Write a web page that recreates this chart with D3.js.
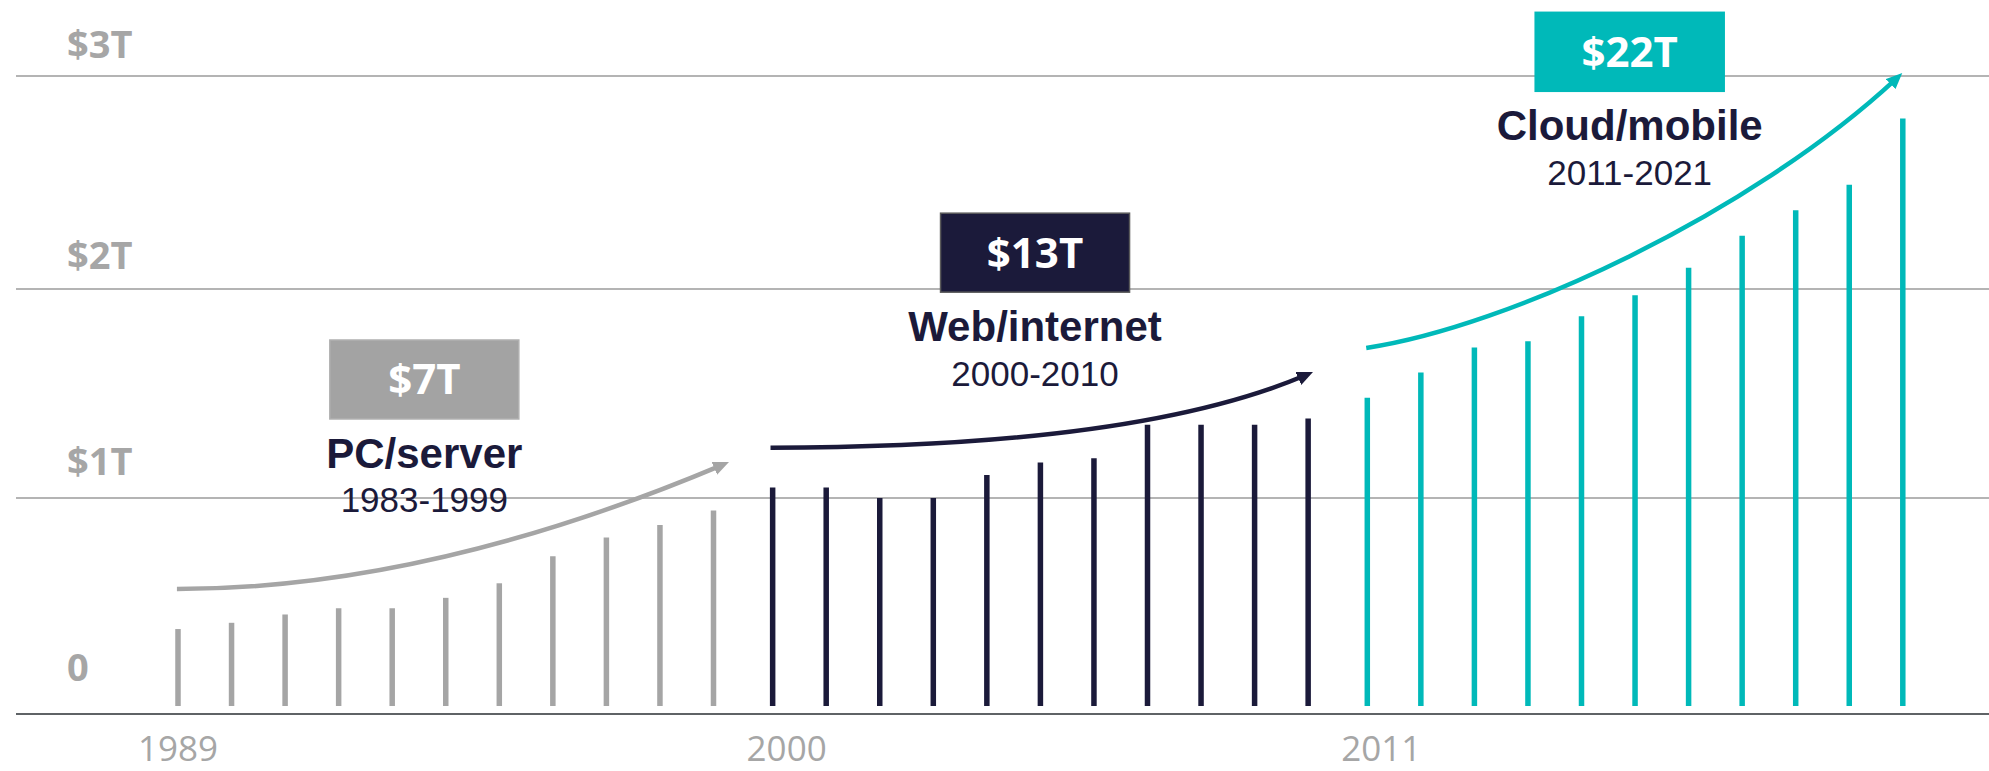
<!DOCTYPE html>
<html><head><meta charset="utf-8">
<script src="https://cdn.jsdelivr.net/npm/d3@7"></script>
<style>html,body{margin:0;padding:0;background:#fff;} svg{display:block;}</style>
</head><body>
<svg id="chart" width="1989" height="771"></svg>
<script>
// ---------- data ----------
const pcYears    = [1989, 1990, 1991, 1992, 1993, 1994, 1995, 1996, 1997, 1998, 1999];
const pcValues   = [0.37, 0.40, 0.44, 0.47, 0.47, 0.52, 0.59, 0.72, 0.81, 0.87, 0.94];
const webYears   = [2000, 2001, 2002, 2003, 2004, 2005, 2006, 2007, 2008, 2009, 2010];
const webValues  = [1.05, 1.05, 1.00, 1.00, 1.11, 1.17, 1.19, 1.35, 1.35, 1.35, 1.38];
const cloudYears = [2011, 2012, 2013, 2014, 2015, 2016, 2017, 2018, 2019, 2020, 2021];
const cloudValues= [1.48, 1.60, 1.72, 1.75, 1.87, 1.97, 2.10, 2.25, 2.37, 2.49, 2.80];

const eraNames  = ["PC/server", "Web/internet", "Cloud/mobile"];
const eraRanges = ["1983-1999", "2000-2010", "2011-2021"];
const eraTotals = ["$7T", "$13T", "$22T"];

const yTickValues = [0, 1, 2, 3];
const yTickLabels = ["0", "$1T", "$2T", "$3T"];
const xTickYears  = [1989, 2000, 2011];
const xTickLabels = ["1989", "2000", "2011"];

// trend arrows: cubic curves, control points in data units [year, $T]
const pcArrow    = [[1988.98, 0.5625], [1992.14, 0.5625], [1995.58, 0.766], [1999.29, 1.172]];
const webArrow   = [[1999.96, 1.241], [2004.60, 1.241], [2007.97, 1.361], [2010.09, 1.603]];
const cloudArrow = [[2010.98, 1.718], [2013.68, 1.822], [2018.28, 2.367], [2020.99, 3.014]];

// ---------- layout / style (separate from data) ----------
const W = 1989, H = 771;
const eraColors = ["#a5a5a5", "#1b1a3a", "#00b9b9"];
const boxFills  = ["#a3a3a3", "#1b1a3a", "#00b9b9"];
const boxStrokes= ["#b0b0b0", "#5a5a5a", "#00b9b9"];
const textNavy  = "#1b1a3a";
const axisGray  = "#a6a6a6";
const GROUP_GAP = 5.6;
// label block anchors in data units: [center year, value at box top]
const eraAnchors = [[1993.6, 1.756], [2004.9, 2.356], [2015.9, 3.299]];

const xs = d3.scaleLinear().domain([1989, 2021]).range([178, 1891.6]);
const y  = d3.scaleLinear().domain([0, 1, 2, 3]).range([706, 498, 289, 76]);
const xPos = (year, g) => xs(year) + GROUP_GAP * g;

const svg = d3.select("#chart");
svg.append("rect").attr("width", W).attr("height", H).attr("fill", "#fff");

// gridlines
svg.append("g").selectAll("line").data(yTickValues.filter(v => v > 0)).join("line")
  .attr("x1", 16).attr("x2", W).attr("y1", d => y(d)).attr("y2", d => y(d))
  .attr("stroke", "#b4b4b4").attr("stroke-width", 2);

// baseline axis
svg.append("line").attr("x1", 16).attr("x2", W).attr("y1", y(0) + 8).attr("y2", y(0) + 8)
  .attr("stroke", "#5f6366").attr("stroke-width", 2.2);

// y labels
const yLabelOffset = d3.scaleLinear().domain([0, 3]).range([25, 18]);
svg.append("g").selectAll("text").data(yTickValues).join("text")
  .attr("x", 67).attr("y", d => y(d) - yLabelOffset(d))
  .attr("font-family", "'Open Sans', sans-serif").attr("font-weight", 700)
  .attr("font-size", 38).attr("fill", axisGray)
  .text((d, i) => yTickLabels[i]);

// x labels
const groupOf = yr => yr < 2000 ? 0 : (yr < 2011 ? 1 : 2);
svg.append("g").selectAll("text").data(xTickYears).join("text")
  .attr("x", (d, i) => xPos(d, groupOf(d)) + (i > 0 ? 14 : 0)).attr("y", 761)
  .attr("text-anchor", "middle")
  .attr("font-family", "'Open Sans', sans-serif").attr("font-weight", 400)
  .attr("font-size", 35).attr("fill", axisGray)
  .text((d, i) => xTickLabels[i]);

// bars
const eras = [
  {years: pcYears, values: pcValues},
  {years: webYears, values: webValues},
  {years: cloudYears, values: cloudValues}
];
eras.forEach((era, g) => {
  const pts = era.years.map((yr, i) => ({year: yr, value: era.values[i]}));
  svg.append("g").selectAll("line").data(pts).join("line")
    .attr("x1", d => xPos(d.year, g)).attr("x2", d => xPos(d.year, g))
    .attr("y1", y(0)).attr("y2", d => y(d.value))
    .attr("stroke", eraColors[g]).attr("stroke-width", 5.5);
});

// arrowheads
const defs = svg.append("defs");
eraColors.forEach((c, g) => {
  defs.append("marker").attr("id", "ah" + g)
    .attr("viewBox", "0 -7 16 14").attr("refX", 16).attr("refY", 0)
    .attr("markerWidth", 16).attr("markerHeight", 14)
    .attr("markerUnits", "userSpaceOnUse").attr("orient", "auto")
    .append("path").attr("d", "M0,-7L16,0L0,7Z").attr("fill", c);
});

// trend arrows
[pcArrow, webArrow, cloudArrow].forEach((pts, g) => {
  const p = pts.map(([yr, v]) => [xPos(yr, g), y(v)]);
  const path = d3.path();
  path.moveTo(p[0][0], p[0][1]);
  path.bezierCurveTo(p[1][0], p[1][1], p[2][0], p[2][1], p[3][0], p[3][1]);
  const el = svg.append("path").attr("d", path.toString())
    .attr("fill", "none").attr("stroke", eraColors[g]).attr("stroke-width", 4.5)
    .attr("marker-end", "url(#ah" + g + ")");
  const len = el.node().getTotalLength();
  el.attr("stroke-dasharray", (len - 9) + " 2000");
});

// era label blocks
eraAnchors.forEach(([yr, v], g) => {
  const cx = xPos(yr, g), top = y(v);
  const bw = 189, bh = 79;
  svg.append("rect").attr("x", cx - bw / 2).attr("y", top).attr("width", bw).attr("height", bh)
    .attr("fill", boxFills[g]).attr("stroke", boxStrokes[g]).attr("stroke-width", 1.5);
  svg.append("text").attr("x", cx).attr("y", top + 54.5).attr("text-anchor", "middle")
    .attr("font-family", "'Open Sans', sans-serif").attr("font-weight", 700)
    .attr("font-size", 42).attr("fill", "#fff").text(eraTotals[g]);
  svg.append("text").attr("x", cx).attr("y", top + 128).attr("text-anchor", "middle")
    .attr("font-family", "'Liberation Sans', Arial, sans-serif").attr("font-weight", 700)
    .attr("font-size", 42).attr("fill", textNavy).text(eraNames[g]);
  svg.append("text").attr("x", cx).attr("y", top + 172.5).attr("text-anchor", "middle")
    .attr("font-family", "'Liberation Sans', Arial, sans-serif").attr("font-weight", 400)
    .attr("font-size", 35).attr("fill", textNavy).text(eraRanges[g]);
});
</script>
</body></html>
